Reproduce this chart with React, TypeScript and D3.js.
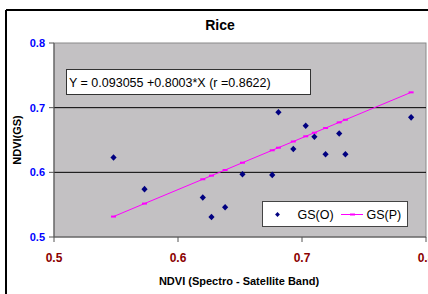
import React from 'react'
import * as d3 from 'd3'

// observed NDVI: spectro (x) vs ground sensor (y)
const ndviSpectro = [0.548, 0.573, 0.62, 0.627, 0.638, 0.652, 0.676, 0.681, 0.693, 0.703, 0.71, 0.719, 0.73, 0.735, 0.788]
const gsObserved = [0.623, 0.574, 0.561, 0.531, 0.546, 0.597, 0.596, 0.693, 0.636, 0.672, 0.655, 0.628, 0.66, 0.628, 0.685]
// predicted values from the fitted line
const gsPredicted = [0.5316, 0.5517, 0.5893, 0.5949, 0.6036, 0.6149, 0.6341, 0.6381, 0.6477, 0.6557, 0.6613, 0.6685, 0.6773, 0.6813, 0.7237]

const xTicks = [0.5, 0.6, 0.7, 0.8]
const yTicks = [0.5, 0.6, 0.7, 0.8]

const W = 428
const H = 294
const font = 'Liberation Sans, Arial, sans-serif'

const App = () => {
	const x = d3.scaleLinear().domain([0.5, 0.8]).range([54, 426])
	const y = d3.scaleLinear().domain([0.5, 0.8]).range([237, 43])

	const pts = ndviSpectro.map((v, i) => ({ x: v, o: gsObserved[i], p: gsPredicted[i] }))
	const line = d3
		.line<{ x: number; p: number }>()
		.x((d) => x(d.x))
		.y((d) => y(d.p))

	const diamond = 'M0,-3.3L3.1,0L0,3.3L-3.1,0Z'
	const smallDiamond = 'M0,-2.6L2.4,0L0,2.6L-2.4,0Z'

	return (
		<svg
			width={W}
			height={H}
			style={{ position: 'absolute', left: 0, top: 0, background: '#fff' }}
			fontFamily={font}
		>
			{/* outer frame */}
			<line x1={6} x2={W} y1={10} y2={10} stroke="#000" strokeWidth={2} />
			<line x1={6} x2={6} y1={10} y2={H} stroke="#000" strokeWidth={2} />

			<text x={220} y={29.5} textAnchor="middle" fontSize={14} fontWeight="bold">
				Rice
			</text>

			{/* plot area */}
			<rect x={x(0.5)} y={y(0.8)} width={x(0.8) - x(0.5)} height={y(0.5) - y(0.8)} fill="#c3c1c3" stroke="#8a8a8a" />
			{yTicks
				.filter((t) => t > 0.5 && t < 0.8)
				.map((t) => (
					<line key={t} x1={x(0.5)} x2={x(0.8)} y1={y(t)} y2={y(t)} stroke="#000" strokeWidth={1} />
				))}
			<line x1={x(0.5)} x2={x(0.5)} y1={y(0.8)} y2={y(0.5)} stroke="#555" />
			<line x1={x(0.5)} x2={x(0.8)} y1={y(0.5)} y2={y(0.5)} stroke="#555" />

			{/* y axis */}
			{yTicks.map((t) => (
				<g key={t}>
					<line x1={x(0.5) - 5} x2={x(0.5)} y1={y(t)} y2={y(t)} stroke="#555" />
					<text x={45} y={y(t) + 4} textAnchor="end" fontSize={11} fontWeight="bold" fill="#0000ff">
						{t.toFixed(1)}
					</text>
				</g>
			))}
			<text
				transform={`translate(21,${(y(0.5) + y(0.8)) / 2}) rotate(-90)`}
				textAnchor="middle"
				fontSize={11}
				fontWeight="bold"
			>
				NDVI(GS)
			</text>

			{/* x axis */}
			{xTicks.map((t) => (
				<g key={t}>
					<line x1={x(t)} x2={x(t)} y1={y(0.5)} y2={y(0.5) + 5} stroke="#555" />
					<text x={x(t)} y={262} textAnchor="middle" fontSize={12} fontWeight="bold" fill="#8b0000">
						{t.toFixed(1)}
					</text>
				</g>
			))}
			<text x={239} y={285} textAnchor="middle" fontSize={11} fontWeight="bold">
				NDVI (Spectro - Satellite Band)
			</text>

			{/* predicted line */}
			<path d={line(pts) || ''} fill="none" stroke="#ff00ff" strokeWidth={1} />
			{pts.map((d, i) => (
				<line key={'p' + i} x1={x(d.x) - 2.5} x2={x(d.x) + 2.5} y1={y(d.p)} y2={y(d.p)} stroke="#ff00ff" strokeWidth={2} />
			))}

			{/* observed */}
			{pts.map((d, i) => (
				<path key={'o' + i} d={diamond} transform={`translate(${x(d.x)},${y(d.o)})`} fill="#000080" />
			))}

			{/* equation box */}
			<rect x={66.5} y={69.5} width={244} height={25} fill="#fff" stroke="#333" />
			<text x={69} y={87} fontSize={12.5}>
				Y = 0.093055 +0.8003*X (r =0.8622)
			</text>

			{/* legend */}
			<rect x={262.5} y={201.5} width={145} height={25} fill="#fff" stroke="#444" />
			<path d={smallDiamond} transform="translate(277.5,214.5)" fill="#000080" />
			<text x={297.5} y={219} fontSize={12.5}>
				GS(O)
			</text>
			<line x1={341} x2={363} y1={214.5} y2={214.5} stroke="#ff00ff" />
			<line x1={350} x2={355} y1={214.5} y2={214.5} stroke="#ff00ff" strokeWidth={2} />
			<text x={366.5} y={219} fontSize={12.5}>
				GS(P)
			</text>
		</svg>
	)
}

export default App
